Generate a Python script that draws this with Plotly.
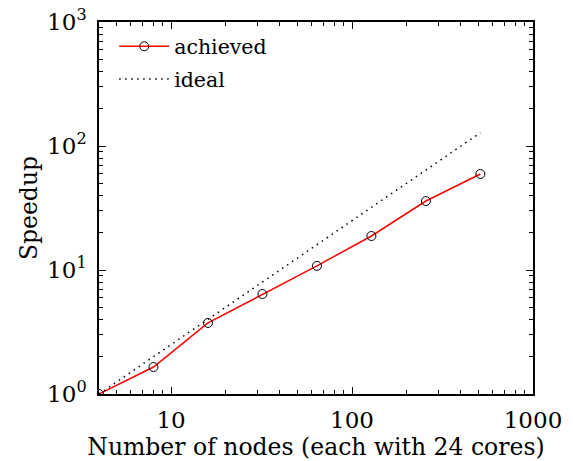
import plotly.graph_objects as go
import math

nodes = [4, 8, 16, 32, 64, 128, 256, 512]
achieved = [1.0, 1.65, 3.74, 6.4, 10.8, 18.8, 36.0, 59.5]
ideal = [n / 4 for n in nodes]

x_major = [10, 100, 1000]
x_major_text = ["10", "100", "1000"]
y_major = [1, 10, 100, 1000]
y_major_text = ["10<sup>0</sup>", "10<sup>1</sup>", "10<sup>2</sup>", "10<sup>3</sup>"]

x_minor = [m * 10 ** e for e in range(0, 3) for m in range(2, 10) if 4 <= m * 10 ** e <= 1000]
y_minor = [m * 10 ** e for e in range(0, 3) for m in range(2, 10)]

FONT = "DejaVu Serif"
TICK_SIZE = 23
LABEL_SIZE = 23.5
LEGEND_SIZE = 20.5

fig = go.Figure()
fig.add_trace(go.Scatter(
    x=nodes, y=achieved, mode="lines+markers", name="achieved", legendgroup="a",
    line=dict(color="red", width=1.5),
    marker=dict(symbol="circle-open", size=9, color="black", line=dict(width=1, color="black")),
))
fig.add_trace(go.Scatter(
    x=nodes, y=ideal, mode="lines", name="ideal", legendgroup="b",
    line=dict(color="black", width=1.5, dash="1.5px,4.5px"),
))

axis_common = dict(
    showline=True, linecolor="black", linewidth=1.5, mirror="ticks",
    ticks="inside", ticklen=7, tickwidth=1, tickcolor="black",
    showgrid=False, zeroline=False, automargin=False,
    tickfont=dict(family=FONT, size=TICK_SIZE, color="black"),
)

fig.update_xaxes(
    type="log", range=[math.log10(4), 3],
    tickmode="array", tickvals=x_major, ticktext=x_major_text,
    minor=dict(tickmode="array", tickvals=x_minor, ticks="inside", ticklen=4, tickcolor="black", showgrid=False),
    title=dict(text="Number of nodes (each with 24 cores)", font=dict(family=FONT, size=LABEL_SIZE, color="black"), standoff=1),
    ticklabelstandoff=5,
    **axis_common,
)
fig.update_yaxes(
    type="log", range=[0, 3],
    tickmode="array", tickvals=y_major, ticktext=y_major_text,
    minor=dict(tickmode="array", tickvals=y_minor, ticks="inside", ticklen=4, tickcolor="black", showgrid=False),
    title=dict(text="Speedup", font=dict(family=FONT, size=LABEL_SIZE, color="black"), standoff=3),
    ticklabelstandoff=6,
    **axis_common,
)

fig.update_layout(
    width=573, height=461,
    margin=dict(l=99, r=40, t=22, b=67),
    plot_bgcolor="white", paper_bgcolor="white",
    font=dict(family=FONT, size=LEGEND_SIZE, color="black"),
    legend=dict(x=0.035, y=0.988, xanchor="left", yanchor="top", bgcolor="rgba(0,0,0,0)",
                font=dict(family=FONT, size=LEGEND_SIZE), tracegroupgap=3, itemwidth=50),
    showlegend=True,
)

fig.write_html("out.html", config={"displayModeBar": False},
               post_script="document.body.style.margin='0';document.body.style.overflow='hidden';")
